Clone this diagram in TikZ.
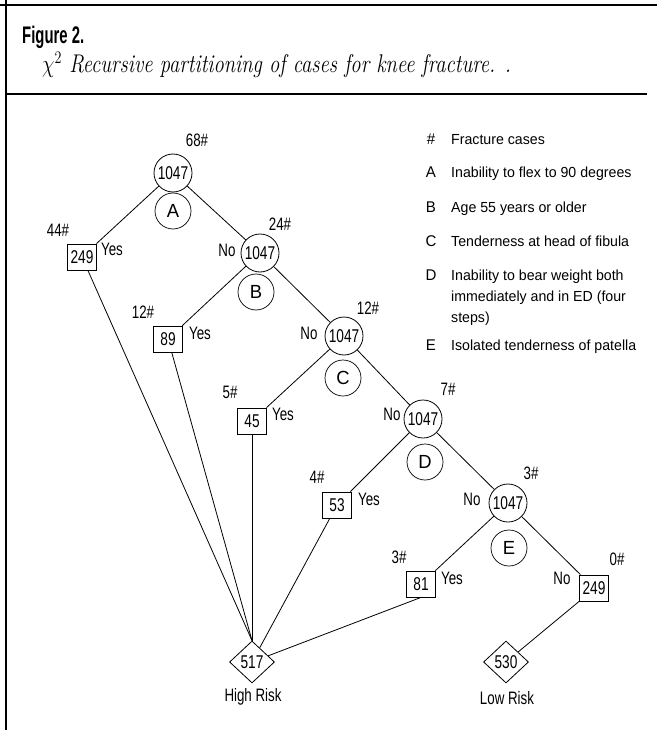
\documentclass[tikz,border=0pt]{standalone}
\usepackage{fontspec}
\usetikzlibrary{shapes.geometric}
\newfontfamily\cf[FakeStretch=0.74]{Liberation Sans}
\newfontfamily\lf[FakeStretch=0.97]{Liberation Sans}
\newfontfamily\tf[FakeStretch=0.62]{Liberation Sans}
\begin{document}
\begin{tikzpicture}[x=1pt,y=-1pt,
  dec/.style={circle, draw, line width=0.8pt, minimum size=38pt, inner sep=0pt, font=\cf\fontsize{18.5}{18.5}\selectfont},
  crit/.style={circle, draw, line width=0.7pt, minimum size=36pt, inner sep=0pt, font=\lf\fontsize{19}{19}\selectfont},
  leaf/.style={rectangle, draw, line width=0.8pt, minimum width=29pt, minimum height=26pt, inner sep=0pt, font=\cf\fontsize{18.5}{18.5}\selectfont},
  risk/.style={diamond, draw, line width=0.8pt, minimum width=45pt, minimum height=42pt, inner sep=0pt, font=\cf\fontsize{18.5}{18.5}\selectfont},
  lab/.style={inner sep=0pt, font=\cf\fontsize{18}{18}\selectfont},
  leg/.style={inner sep=0pt, anchor=base west, font=\lf\fontsize{14.6}{14.6}\selectfont},
  legk/.style={inner sep=0pt, anchor=base, font=\lf\fontsize{15.5}{15.5}\selectfont},
  edge/.style={line width=0.8pt},
  frame/.style={line width=1.2pt}]
\useasboundingbox (0,0) rectangle (657,730);
% frame
\draw[frame] (0,5) -- (657,5);
\draw[frame] (6,0) -- (6,730);
\draw[frame] (6,94) -- (647,94);
% title
\node[inner sep=0pt, anchor=base west, font=\tf\bfseries\fontsize{24}{24}\selectfont] (title) at (22,44) {Figure 2.};
\node[inner sep=0pt, anchor=base west, font=\itshape\fontsize{21}{21}\selectfont] (subtitle) at (42,73) {\scalebox{0.98}[1.22]{$\chi^2$ Recursive partitioning of cases for knee fracture. .}};
% decision nodes
\node[dec] (n68) at (173,173) {1047};
\node[dec] (n24) at (260,253) {1047};
\node[dec] (n12) at (344,336) {1047};
\node[dec] (n7) at (423,419) {1047};
\node[dec] (n3) at (508,503) {1047};
% criteria
\node[crit] (cA) at (173,211) {A};
\node[crit] (cB) at (256,292) {B};
\node[crit] (cC) at (343,378) {C};
\node[crit] (cD) at (425,462) {D};
\node[crit] (cE) at (509,548) {E};
% leaves
\node[leaf] (b249) at (82,257) {249};
\node[leaf] (b89) at (168,339) {89};
\node[leaf] (b45) at (252,421) {45};
\node[leaf] (b53) at (337,505) {53};
\node[leaf] (b81) at (421,584) {81};
\node[leaf] (b249r) at (594,588) {249};
% outcomes
\node[risk] (d517) at (252,662) {517};
\node[risk] (d530) at (506,662) {530};
\node[lab] (hr) at (253,697) {High Risk};
\node[lab] (lr) at (507,698) {Low Risk};
% counts
\node[lab] (k68) at (197,140) {68\#};
\node[lab] (k44) at (58,230) {44\#};
\node[lab] (k24) at (280,224) {24\#};
\node[lab] (k12a) at (143,312) {12\#};
\node[lab] (k12b) at (368,308) {12\#};
\node[lab] (k5) at (230,392) {5\#};
\node[lab] (k7) at (448,389) {7\#};
\node[lab] (k4) at (317,477) {4\#};
\node[lab] (k3a) at (531,473) {3\#};
\node[lab] (k3b) at (399,557) {3\#};
\node[lab] (k0) at (617,559) {0\#};
% yes / no
\node[lab] (y1) at (112,249) {Yes};
\node[lab] (no1) at (227,250) {No};
\node[lab] (y2) at (200,333) {Yes};
\node[lab] (no2) at (309,333) {No};
\node[lab] (y3) at (283,414) {Yes};
\node[lab] (no3) at (392,414) {No};
\node[lab] (y4) at (369,499) {Yes};
\node[lab] (no4) at (472,499) {No};
\node[lab] (y5) at (452,578) {Yes};
\node[lab] (no5) at (562,578) {No};
% edges
\draw[edge] (n68) -- (b249);
\draw[edge] (n68) -- (n24);
\draw[edge] (n24) -- (b89);
\draw[edge] (n24) -- (n12);
\draw[edge] (n12) -- (b45);
\draw[edge] (n12) -- (n7);
\draw[edge] (n7) -- (b53);
\draw[edge] (n7) -- (n3);
\draw[edge] (n3) -- (b81);
\draw[edge] (n3) -- (b249r);
\draw[edge] (b249) -- (d517.north);
\draw[edge] (b89) -- (d517.north);
\draw[edge] (b45) -- (d517.north);
\draw[edge] (b53) -- (d517);
\draw[edge] (b81.south) -- (d517);
\draw[edge] (b249r.south west) -- (d530);
% legend
\node[legk] (lk0) at (431,145) {\#};
\node[leg] (lt0) at (451,145) {Fracture cases};
\node[legk] (lkA) at (431,178) {A};
\node[leg] (ltA) at (451,178) {Inability to flex to 90 degrees};
\node[legk] (lkB) at (431,212) {B};
\node[leg] (ltB) at (451,212) {Age 55 years or older};
\node[legk] (lkC) at (431,246) {C};
\node[leg] (ltC) at (451,246) {Tenderness at head of fibula};
\node[legk] (lkD) at (431,280) {D};
\node[leg] (ltD1) at (451,280) {Inability to bear weight both};
\node[leg] (ltD2) at (451,301) {immediately and in ED (four};
\node[leg] (ltD3) at (451,322) {steps)};
\node[legk] (lkE) at (431,350) {E};
\node[leg] (ltE) at (451,350) {Isolated tenderness of patella};
\end{tikzpicture}
\end{document}
